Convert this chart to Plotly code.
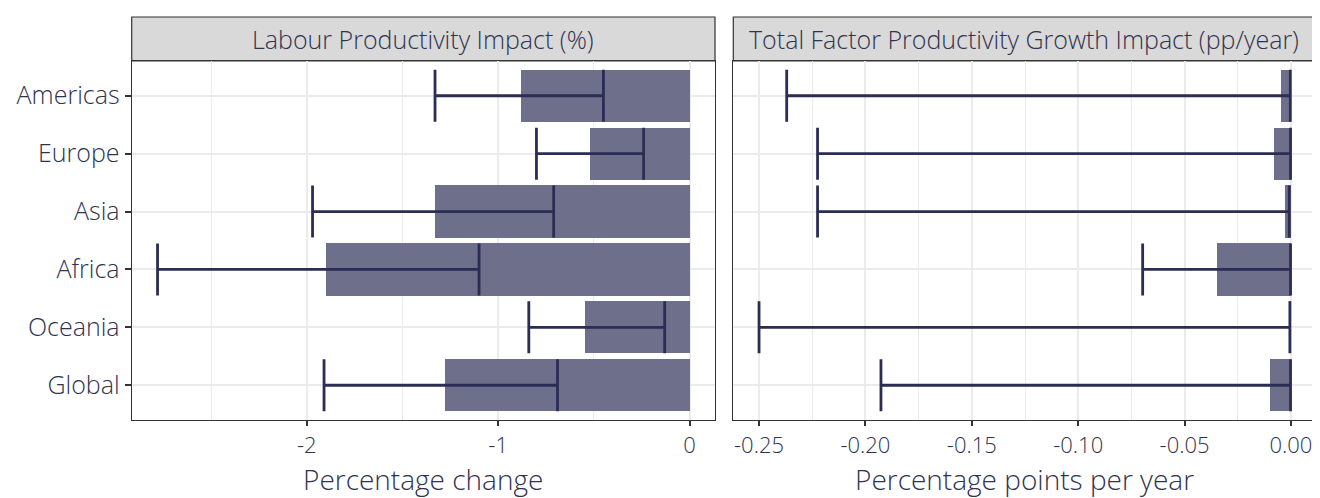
import plotly.graph_objects as go

# ---------------- data ----------------
regions = ["Americas", "Europe", "Asia", "Africa", "Oceania", "Global"]

# Labour productivity impact (%)
lp_central = [-0.88, -0.52, -1.33, -1.90, -0.55, -1.28]
lp_low = [-1.33, -0.80, -1.97, -2.78, -0.84, -1.91]
lp_high = [-0.45, -0.24, -0.71, -1.10, -0.13, -0.69]

# Total factor productivity growth impact (pp/year)
tfp_central = [-0.0047, -0.0077, -0.0028, -0.0345, -0.0004, -0.0095]
tfp_low = [-0.237, -0.2225, -0.2225, -0.0697, -0.250, -0.1927]
tfp_high = [-0.0003, -0.0002, -0.0008, -0.0002, -0.0005, -0.0002]

lp_ticks = [-2, -1, 0]
lp_ticklabels = ["-2", "-1", "0"]
lp_minor = [-2.5, -1.5, -0.5]
tfp_ticks = [-0.25, -0.20, -0.15, -0.10, -0.05, 0.00]
tfp_ticklabels = ["-0.25", "-0.20", "-0.15", "-0.10", "-0.05", "0.00"]
tfp_minor = [-0.225, -0.175, -0.125, -0.075, -0.025]

panel_titles = ["Labour Productivity Impact (%)",
                "Total Factor Productivity Growth Impact (pp/year)"]
axis_titles = ["Percentage change", "Percentage points per year"]

# ---------------- styling ----------------
# the page body has an 8px margin, so the figure is 8px smaller
OFF = 8
W, H = 1320 - OFF, 498 - OFF
FONT = "Open Sans"
WEIGHT = 300
TEXT = "#30334f"
BAR = "#6e6f8a"
ERR = "#2b2d54"
GRID = "#ebebeb"
BORDER = "#333333"

def px_x(v):
    return (v - OFF) / W

def px_y(v):
    return 1 - (v - OFF) / H

x1_dom = [px_x(131.7), px_x(715)]
x2_dom = [px_x(733.3), px_x(1315)]
y_dom = [px_y(420), px_y(61)]
strip_top = px_y(17)

fig = go.Figure()

def add_panel(central, low, high, xa, ya):
    fig.add_trace(go.Bar(
        x=central, y=regions, orientation="h", width=0.9,
        marker=dict(color=BAR, line=dict(width=0)),
        xaxis=xa, yaxis=ya, showlegend=False, hoverinfo="x+y"))
    fig.add_trace(go.Scatter(
        x=high, y=regions, mode="markers",
        marker=dict(size=1, opacity=0),
        error_x=dict(type="data", symmetric=False,
                     array=[0] * len(high),
                     arrayminus=[h - l for h, l in zip(high, low)],
                     color=ERR, thickness=2.8, width=26),
        xaxis=xa, yaxis=ya, showlegend=False, hoverinfo="skip"))

add_panel(lp_central, lp_low, lp_high, "x", "y")
add_panel(tfp_central, tfp_low, tfp_high, "x2", "y2")

tickfont = dict(family=FONT, size=22, color=TEXT, weight=WEIGHT)

common_x = dict(
    showline=True, mirror=True, linecolor=BORDER, linewidth=1.2,
    ticks="outside", ticklen=5, tickwidth=1.6, tickcolor=BORDER,
    showgrid=True, gridcolor=GRID, gridwidth=1.6, zeroline=False,
    tickfont=tickfont,
)

fig.update_layout(
    width=W, height=H,
    margin=dict(l=0, r=0, t=0, b=0),
    paper_bgcolor="white", plot_bgcolor="white",
    font=dict(family=FONT, color=TEXT),
    bargap=0,
    xaxis=dict(domain=x1_dom, range=[-2.915, 0.133], anchor="y",
               tickmode="array", tickvals=lp_ticks, ticktext=lp_ticklabels,
               minor=dict(tickvals=lp_minor, showgrid=True, gridcolor=GRID,
                          gridwidth=0.9, ticks=""),
               **common_x),
    xaxis2=dict(domain=x2_dom, range=[-0.2621, 0.0113], anchor="y2",
                tickmode="array", tickvals=tfp_ticks, ticktext=tfp_ticklabels,
                minor=dict(tickvals=tfp_minor, showgrid=True, gridcolor=GRID,
                           gridwidth=0.9, ticks=""),
                **common_x),
    yaxis=dict(domain=y_dom, anchor="x", type="category",
               categoryorder="array", categoryarray=regions,
               range=[5.6, -0.6],
               showline=True, mirror=True, linecolor=BORDER, linewidth=1.2,
               ticks="outside", ticklen=6, tickwidth=1.6, tickcolor=BORDER,
               showgrid=True, gridcolor=GRID, gridwidth=1.6, zeroline=False,
               tickfont=dict(family=FONT, size=25, color=TEXT, weight=WEIGHT)),
    yaxis2=dict(domain=y_dom, anchor="x2", type="category",
                categoryorder="array", categoryarray=regions,
                range=[5.6, -0.6], matches="y",
                showline=True, mirror=True, linecolor=BORDER, linewidth=1.2,
                ticks="", showticklabels=False,
                showgrid=True, gridcolor=GRID, gridwidth=1.6, zeroline=False),
)

# facet strips and axis titles
for dom, title, atitle in zip([x1_dom, x2_dom], panel_titles, axis_titles):
    fig.add_shape(type="rect", xref="paper", yref="paper",
                  x0=dom[0], x1=dom[1], y0=y_dom[1], y1=strip_top,
                  fillcolor="#d9d9d9", line=dict(color=BORDER, width=1.2),
                  layer="below")
    fig.add_annotation(xref="paper", yref="paper",
                       x=(dom[0] + dom[1]) / 2, y=(y_dom[1] + strip_top) / 2,
                       text=title, showarrow=False,
                       xanchor="center", yanchor="middle",
                       font=dict(family=FONT, size=25, color=TEXT,
                                 weight=WEIGHT))
    fig.add_annotation(xref="paper", yref="paper",
                       x=(dom[0] + dom[1]) / 2, y=px_y(479),
                       text=atitle, showarrow=False,
                       xanchor="center", yanchor="middle",
                       font=dict(family=FONT, size=28, color=TEXT,
                                 weight=WEIGHT))

fig.write_html("out.html")
